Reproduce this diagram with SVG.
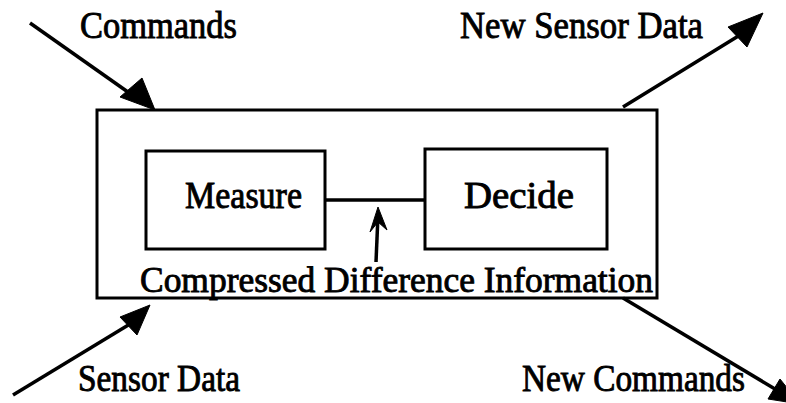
<svg xmlns="http://www.w3.org/2000/svg" width="786" height="403" viewBox="0 0 786 403">
<style>
text{font-family:"Liberation Serif","Times New Roman",serif;font-size:37px;fill:#000;stroke:#000;stroke-width:0.9}
.box{fill:none;stroke:#000;stroke-width:3}
.ln{fill:none;stroke:#000;stroke-width:3.5}
.head{fill:#000;stroke:#000;stroke-width:1}
</style>
<rect width="786" height="403" fill="#fff"/>
<g id="system"><rect class="box" x="97" y="110" width="560" height="188"/></g>
<g id="measure"><rect class="box" x="146" y="151" width="179" height="98"/><text x="185" y="208" textLength="117" lengthAdjust="spacingAndGlyphs">Measure</text></g>
<g id="decide"><rect class="box" x="425" y="149" width="182" height="100"/><text x="464" y="208" textLength="110" lengthAdjust="spacingAndGlyphs">Decide</text></g>
<g id="label-compressed"><text x="140" y="292" textLength="513" lengthAdjust="spacingAndGlyphs" style="font-size:36px">Compressed Difference Information</text></g>
<g id="label-commands"><text x="80" y="38" textLength="157" lengthAdjust="spacingAndGlyphs">Commands</text></g>
<g id="label-newsensor"><text x="460" y="38" textLength="243" lengthAdjust="spacingAndGlyphs">New Sensor Data</text></g>
<g id="label-sensor"><text x="78" y="391" textLength="162" lengthAdjust="spacingAndGlyphs">Sensor Data</text></g>
<g id="label-newcommands"><text x="522" y="391" textLength="223" lengthAdjust="spacingAndGlyphs">New Commands</text></g>
<g id="connectors">
<line class="ln" x1="325" y1="200" x2="425" y2="200"/>
<line class="ln" x1="376" y1="262" x2="378" y2="215"/>
<polygon class="head" points="378,207 370,232 378,222 387,230"/>
<line class="ln" x1="30" y1="23" x2="135" y2="97"/>
<polygon class="head" points="155,110 120,97 142,78"/>
<line class="ln" x1="623" y1="107" x2="740" y2="35"/>
<polygon class="head" points="763,13 728,27 747,47"/>
<line class="ln" x1="13" y1="395" x2="130" y2="324"/>
<polygon class="head" points="150,305 120,317 137,335"/>
<line class="ln" x1="623" y1="298" x2="775" y2="389"/>
<polygon class="head" points="800,404 768,399 780,379"/>
</g>
</svg>
